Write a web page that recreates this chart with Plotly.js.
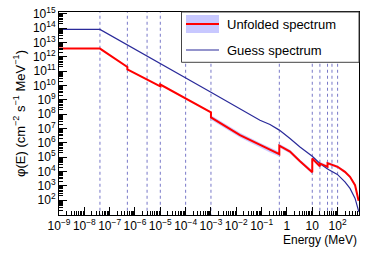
<!DOCTYPE html>
<html>
<head>
<meta charset="utf-8">
<script src="https://cdn.plot.ly/plotly-3.0.1.min.js"></script>
<style>html,body{margin:0;padding:0;background:#fff;}#chart{width:374px;height:255px;}</style>
</head>
<body>
<div id="chart"></div>
<script>
// Unfolded spectrum (MeV, cm^-2 s^-1 MeV^-1)
var unfoldedE = [1e-9, 4.14e-8, 5e-7, 5e-7, 1e-5, 1e-5, 1e-3, 1e-3, 0.014, 0.0861, 0.214, 0.5, 0.5, 1.32, 3.27, 10, 10, 20, 20, 40, 40, 66, 100, 195, 309, 490, 630, 676];
var unfoldedPhi = [3.7e12, 3.7e12, 1.95e11, 1.3e11, 8.7e9, 1.15e10, 1.3e8, 5.8e7, 3.4e6, 6.8e5, 3.0e5, 1.6e5, 6.3e5, 2.4e5, 5.1e4, 8.9e3, 7.9e4, 2.3e4, 3.6e4, 2.1e4, 3.8e4, 2.75e4, 2.1e4, 9.3e3, 4.2e3, 1.1e3, 2.2e2, 9e1];
// relative uncertainty of the unfolded spectrum
var unfoldedErr = [0, 0, 0, 0, 0, 0, 0, 0.45, 0.45, 0.45, 0.45, 0.45, 0.35, 0.35, 0.35, 0.35, 0.3, 0.3, 0.3, 0.3, 0.3, 0.25, 0.25, 0.25, 0.25, 0.25, 0.25, 0.25];
// Guess spectrum
var guessE = [1e-9, 4.14e-8, 1e-3, 0.0861, 0.214, 0.5, 1.32, 3.27, 10, 20, 40, 98, 195, 309, 490, 630, 690];
var guessPhi = [8.1e13, 8.1e13, 3.3e9, 3.7e7, 1.86e7, 7.6e6, 2.0e6, 5.1e5, 1.15e5, 3.6e4, 1.45e4, 6.2e3, 1.86e3, 6.5e2, 1.3e2, 2.6e1, 1.5e1];
// group boundaries (dotted lines)
var boundaries = [4.14e-8, 5e-7, 3e-6, 1e-5, 1e-4, 1e-3, 0.5, 10, 20, 40, 60, 100];
var xTickExp = [-9, -8, -7, -6, -5, -4, -3, -2, -1, 0, 1, 2];
var yTickExp = [2, 3, 4, 5, 6, 7, 8, 9, 10, 11, 12, 13, 14, 15];

function expLabel(p) {
  if (p === 0) return '1';
  if (p === 1) return '10';
  return '10<sup>' + (p < 0 ? '\u2212' + (-p) : p) + '</sup>';
}

// band
var bandX = [], bandY = [];
var upX = [], upY = [], loX = [], loY = [];
for (var i = 0; i < unfoldedE.length; i++) {
  if (unfoldedErr[i] > 0) {
    upX.push(unfoldedE[i]); upY.push(unfoldedPhi[i] * (1 + unfoldedErr[i]));
    loX.push(unfoldedE[i]); loY.push(unfoldedPhi[i] / (1 + unfoldedErr[i]));
  }
}
bandX = upX.concat(loX.slice().reverse());
bandY = upY.concat(loY.slice().reverse());

// dotted lines
var vx = [], vy = [];
boundaries.forEach(function (b) { vx.push(b, b, null); vy.push(1, 1e16, null); });

var traces = [
  {x: vx, y: vy, mode: 'lines', line: {color: '#7878c8', width: 1, dash: 'dot'}, hoverinfo: 'skip', showlegend: false},
  {x: bandX, y: bandY, mode: 'lines', fill: 'toself', fillcolor: 'rgba(190,190,255,0.8)', line: {width: 0, color: 'rgba(0,0,0,0)'}, hoverinfo: 'skip', showlegend: false},
  {x: guessE, y: guessPhi, mode: 'lines', line: {color: '#2a2a9a', width: 1.2}, name: 'Guess spectrum', showlegend: false},
  {x: unfoldedE, y: unfoldedPhi, mode: 'lines', line: {color: '#ff0000', width: 2}, name: 'Unfolded spectrum', showlegend: false}
];

var font = 'Liberation Sans, Arial, sans-serif';
var plotW = 300, plotH = 203;
function px2paperX(px) { return (px - 59) / plotW; }
function px2paperY(py) { return 1 - (py - 12) / plotH; }

var layout = {
  width: 374, height: 255,
  margin: {l: 59, r: 15, t: 12, b: 40},
  paper_bgcolor: '#fff', plot_bgcolor: '#fff',
  font: {family: font, size: 12, color: '#000'},
  showlegend: false,
  xaxis: {
    type: 'log', range: [-9, 2.845],
    tickmode: 'array', tickvals: xTickExp.map(function (p) { return Math.pow(10, p); }),
    ticktext: xTickExp.map(expLabel),
    ticks: 'inside', ticklen: 8, tickcolor: '#000', tickwidth: 1,
    minor: {ticks: 'inside', ticklen: 4, tickcolor: '#000', dtick: 'D1', showgrid: false},
    showgrid: false, zeroline: false, showline: true, linecolor: '#000', linewidth: 1, mirror: true,
    tickfont: {family: font, size: 12}
  },
  yaxis: {
    type: 'log', range: [0.96, 15.12],
    tickmode: 'array', tickvals: yTickExp.map(function (p) { return Math.pow(10, p); }),
    ticktext: yTickExp.map(expLabel),
    ticks: 'inside', ticklen: 8, tickcolor: '#000', tickwidth: 1,
    minor: {ticks: 'inside', ticklen: 4, tickcolor: '#000', dtick: 'D1', showgrid: false},
    showgrid: false, zeroline: false, showline: true, linecolor: '#000', linewidth: 1, mirror: true,
    tickfont: {family: font, size: 12},
    title: {text: '\u03c6(E) (cm<sup>\u22122</sup> s<sup>\u22121</sup> MeV<sup>\u22121</sup>)', font: {family: font, size: 13}, standoff: 4}
  },
  shapes: [
    {type: 'rect', xref: 'paper', yref: 'paper', x0: px2paperX(181.5), x1: 1, y0: px2paperY(62.3), y1: 1, fillcolor: '#fff', line: {color: '#444', width: 1}, layer: 'above'},
    {type: 'rect', xref: 'paper', yref: 'paper', x0: px2paperX(186), x1: px2paperX(219), y0: px2paperY(33), y1: px2paperY(15), fillcolor: 'rgb(200,200,255)', line: {width: 0}, layer: 'above'},
    {type: 'line', xref: 'paper', yref: 'paper', x0: px2paperX(186), x1: px2paperX(219), y0: px2paperY(24), y1: px2paperY(24), line: {color: '#ff0000', width: 2}, layer: 'above'},
    {type: 'line', xref: 'paper', yref: 'paper', x0: px2paperX(186), x1: px2paperX(219), y0: px2paperY(50), y1: px2paperY(50), line: {color: '#2a2a9a', width: 1.2}, layer: 'above'}
  ],
  annotations: [
    {xref: 'paper', yref: 'paper', x: px2paperX(225), y: px2paperY(24), xanchor: 'left', yanchor: 'middle', text: 'Unfolded spectrum', showarrow: false, font: {family: font, size: 13}},
    {xref: 'paper', yref: 'paper', x: px2paperX(225), y: px2paperY(50), xanchor: 'left', yanchor: 'middle', text: 'Guess spectrum', showarrow: false, font: {family: font, size: 13}},
    {xref: 'paper', yref: 'paper', x: 1, y: px2paperY(240), xanchor: 'right', yanchor: 'middle', text: 'Energy (MeV)', showarrow: false, font: {family: font, size: 12}}
  ]
};

Plotly.newPlot('chart', traces, layout, {staticPlot: true, displayModeBar: false});
</script>
</body>
</html>
